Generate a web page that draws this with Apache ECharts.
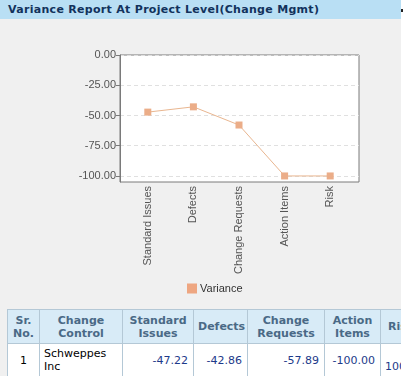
<!DOCTYPE html>
<html><head><meta charset="utf-8">
<script src="https://cdn.jsdelivr.net/npm/echarts@6/dist/echarts.min.js"></script>
<style>
html,body{margin:0;padding:0;background:#fff;width:416px;height:376px;overflow:hidden;}
#page{position:absolute;left:0;top:0;width:401px;height:376px;background:#f0f0f0;overflow:hidden;}
#hdr{position:absolute;left:0;top:0;width:401px;height:19px;background:#b9dff4;color:#12325c;font:bold 11px "DejaVu Sans",Verdana,sans-serif;letter-spacing:0.3px;line-height:19px;padding-left:8px;box-sizing:border-box;white-space:nowrap;}
#dot{position:absolute;left:401px;top:9px;width:2px;height:3px;background:#222;}
#chart{position:absolute;left:0;top:0;width:401px;height:305px;}
#tblwrap{position:absolute;left:7px;top:309px;width:394px;height:67px;overflow:hidden;}
table{border-collapse:collapse;font:11px "DejaVu Sans",Verdana,sans-serif;table-layout:fixed;width:430px;}
th,td{border:1px solid #b4c8d6;padding:0 4px;line-height:13px;}
th{background:#d8ebf7;color:#4a6986;font-weight:bold;height:33px;text-align:center;}
td{background:#fff;color:#000;height:32px;}
td.n{color:#1d3a8a;text-align:right;padding-right:5px;}
td.r{color:#1d3a8a;text-align:left;padding-left:4px;}
th.rk{text-align:left;padding-left:7px;}
</style></head>
<body>
<div id="page">
<div id="chart"></div>
<div id="hdr">Variance Report At Project Level(Change Mgmt)</div>
<div id="tblwrap"><table id="tbl"></table></div>
</div>
<div id="dot"></div>
<script>
var title = 'Variance Report At Project Level(Change Mgmt)';
var categories = ['Standard Issues','Defects','Change Requests','Action Items','Risk'];
var seriesName = 'Variance';
var varianceValues = [-47.22, -42.86, -57.89, -100.00, -100.00];
var yTickValues = [0, -25, -50, -75, -100];
var tableHeaders = ['Sr.<br>No.','Change<br>Control','Standard<br>Issues','Defects','Change<br>Requests','Action<br>Items','Risk'];
var tableRow = ['1','Schweppes<br>Inc','-47.22','-42.86','-57.89','-100.00','&nbsp;<br>100.00'];
var colWidths = [32,83,71,54,77,56,57];

// table
var tbl = document.getElementById('tbl');
var cg = '<colgroup>' + colWidths.map(function(w){return '<col style="width:'+w+'px">';}).join('') + '</colgroup>';
var hr = '<tr>' + tableHeaders.map(function(h,i){return '<th' + (i===6?' class="rk"':'') + '>'+h+'</th>';}).join('') + '</tr>';
var dr = '<tr>' + tableRow.map(function(v,i){
  if(i===0) return '<td style="text-align:center">'+v+'</td>';
  if(i===1) return '<td style="text-align:left">'+v+'</td>';
  if(i===6) return '<td class="r">'+v+'</td>';
  return '<td class="n">'+v+'</td>';
}).join('') + '</tr>';
tbl.innerHTML = cg + hr + dr;

var chart = echarts.init(document.getElementById('chart'), null, {renderer:'canvas'});
var lineColor = '#e9b690';
var markColor = '#ebad88';
chart.setOption({
  backgroundColor:'transparent',
  animation:false,
  grid:[
    {left:120, top:55, width:239, height:127, show:true, backgroundColor:'#fff', borderColor:'#7a7a7a', borderWidth:1},
    {left:125, top:55, width:228, height:127}
  ],
  xAxis:[
    {gridIndex:0, type:'value', min:0, max:1, show:false},
    {gridIndex:1, type:'category', data:categories, boundaryGap:true,
     axisLine:{show:false}, axisTick:{show:false}, splitLine:{show:false},
     axisLabel:{rotate:90, margin:4, color:'#555', fontSize:11, fontFamily:'Liberation Sans, Arial, sans-serif', interval:0}}
  ],
  yAxis:[
    {gridIndex:0, type:'value', min:-105, max:0,
     axisLine:{show:true, lineStyle:{color:'#7a7a7a', width:1}},
     axisTick:{show:true, length:4, customValues:yTickValues, lineStyle:{color:'#7a7a7a'}},
     axisLabel:{customValues:yTickValues, margin:4, color:'#555', fontSize:11, fontFamily:'Liberation Sans, Arial, sans-serif',
       formatter:function(v){return v.toFixed(2);}},
     splitLine:{show:true, lineStyle:{color:'#e0e0e0', type:[4,3], width:1}}},
    {gridIndex:1, type:'value', min:-105, max:0, show:false, splitLine:{show:false}}
  ],
  legend:{left:187, top:283, itemWidth:10, itemHeight:10, itemGap:10, icon:'rect', padding:0,
    textStyle:{color:'#333', fontSize:11, fontFamily:'Liberation Sans, Arial, sans-serif', padding:[0,0,0,-2]},
    data:[{name:seriesName, itemStyle:{color:'#eea681'}}]},
  series:[{
    name:seriesName, type:'line', xAxisIndex:1, yAxisIndex:1, data:varianceValues,
    symbol:'rect', symbolSize:7, showAllSymbol:true,
    lineStyle:{color:lineColor, width:1},
    itemStyle:{color:markColor}
  }]
});
</script>
</body></html>
